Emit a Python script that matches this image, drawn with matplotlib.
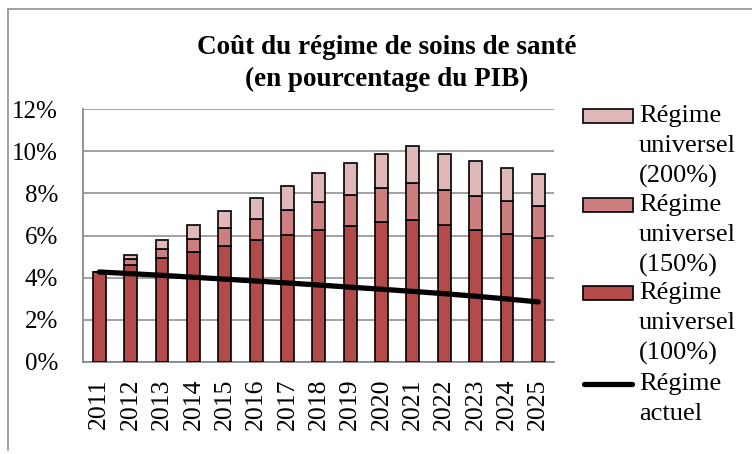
import matplotlib
matplotlib.use("Agg")
import matplotlib.pyplot as plt
from matplotlib.patches import Rectangle
from matplotlib.lines import Line2D
import numpy as np

years = [str(y) for y in range(2011, 2026)]
# Segment values (percentage points of GDP)
univ_100 = [4.27, 4.61, 4.91, 5.23, 5.52, 5.78, 6.04, 6.27, 6.46, 6.62, 6.75, 6.51, 6.27, 6.05, 5.88]
univ_150_extra = [0.00, 0.26, 0.43, 0.60, 0.83, 1.02, 1.18, 1.31, 1.47, 1.61, 1.73, 1.67, 1.62, 1.58, 1.50]
univ_200_extra = [0.00, 0.19, 0.46, 0.66, 0.83, 0.99, 1.15, 1.38, 1.50, 1.65, 1.76, 1.70, 1.62, 1.55, 1.52]
actuel = [4.27, 4.19, 4.11, 4.02, 3.93, 3.84, 3.75, 3.65, 3.55, 3.45, 3.35, 3.24, 3.12, 2.99, 2.85]

yticks = [0, 2, 4, 6, 8, 10, 12]
ytick_labels = ["0%", "2%", "4%", "6%", "8%", "10%", "12%"]

legend_labels = [
    ["Régime", "universel", "(200%)"],
    ["Régime", "universel", "(150%)"],
    ["Régime", "universel", "(100%)"],
    ["Régime", "actuel"],
]

c100 = "#B44B4B"
c150 = "#CD7E7E"
c200 = "#E0B8B8"

W, H = 752, 454
fig = plt.figure(figsize=(W / 100, H / 100), dpi=100)
serif = ["Liberation Serif", "DejaVu Serif"]

ax = fig.add_axes([83 / W, 1 - 362 / H, (554 - 83) / W, (362 - 109) / H])

x = np.arange(len(years))
bw = 0.41
ax.bar(x, univ_100, bw, color=c100, edgecolor="black", linewidth=1.2, zorder=3)
b150 = np.array(univ_100)
ax.bar(x, univ_150_extra, bw, bottom=b150, color=c150, edgecolor="black", linewidth=1.2, zorder=3)
b200 = b150 + np.array(univ_150_extra)
ax.bar(x, univ_200_extra, bw, bottom=b200, color=c200, edgecolor="black", linewidth=1.2, zorder=3)
ax.plot(x, actuel, color="black", linewidth=3.8, solid_capstyle="round", zorder=4)

ax.set_xlim(-0.52, 14.5)
ax.set_ylim(0, 12)
ax.set_yticks(yticks)
ax.set_yticklabels(ytick_labels, fontfamily=serif, fontsize=18)
ax.set_xticks(x)
ax.set_xticklabels(years, rotation=90, fontfamily=serif, fontsize=18.5)
ax.tick_params(axis="y", length=0, pad=18)
ax.tick_params(axis="x", length=0, pad=12)
ax.grid(axis="y", color="#9a9a9a", linewidth=1.3, zorder=0)
for s in ["top", "right"]:
    ax.spines[s].set_visible(False)
for s in ["left", "bottom"]:
    ax.spines[s].set_color("#8a8a8a")
    ax.spines[s].set_linewidth(1.3)

# Title
fig.text(387 / W, 1 - 48 / H, "Coût du régime de soins de santé", ha="center", va="center",
         fontfamily=serif, fontsize=19.5, fontweight="bold")
fig.text(387 / W, 1 - 79 / H, "(en pourcentage du PIB)", ha="center", va="center",
         fontfamily=serif, fontsize=19.5, fontweight="bold")

# Outer chart border
fig.add_artist(Line2D([8 / W, 8 / W], [1 - 450 / H, 1 - 9 / H], color="#9a9a9a", linewidth=1.3))
fig.add_artist(Line2D([8 / W, 1.0], [1 - 9 / H, 1 - 9 / H], color="#9a9a9a", linewidth=1.3))

# Manual legend
entry_y = [116, 205, 293, 384]
colors = [c200, c150, c100]
for i, (yc, lines) in enumerate(zip(entry_y, legend_labels)):
    if i < 3:
        fig.add_artist(Rectangle((583 / W, 1 - (yc + 7) / H), 50 / W, 14 / H,
                                 facecolor=colors[i], edgecolor="black", linewidth=1.2,
                                 transform=fig.transFigure))
    else:
        fig.add_artist(Line2D([584 / W, 632 / W], [1 - yc / H, 1 - yc / H], color="black",
                              linewidth=3.8, solid_capstyle="round"))
    for j, t in enumerate(lines):
        fig.text(639 / W, 1 - (yc + 30 * j) / H, t, ha="left", va="center",
                 fontfamily=serif, fontsize=19)

fig.savefig("out.png", dpi=100)
